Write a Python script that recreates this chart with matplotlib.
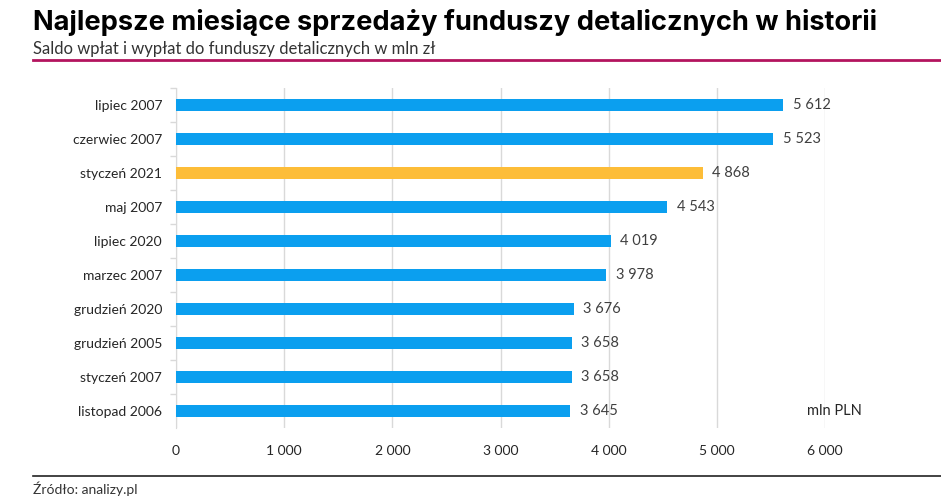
import matplotlib.pyplot as plt
from matplotlib.lines import Line2D

# Data
months = ["lipiec 2007", "czerwiec 2007", "styczeń 2021", "maj 2007", "lipiec 2020",
          "marzec 2007", "grudzień 2020", "grudzień 2005", "styczeń 2007", "listopad 2006"]
values = [5612, 5523, 4868, 4543, 4019, 3978, 3676, 3658, 3658, 3645]
highlight = "styczeń 2021"
xticks = [0, 1000, 2000, 3000, 4000, 5000, 6000]

blue = "#0b9fef"
yellow = "#fdbd38"
colors = [yellow if m == highlight else blue for m in months]


def fmt(v):
    return f"{v:,}".replace(",", " ")


fig = plt.figure(figsize=(9.41, 4.96), dpi=100)
ax = fig.add_axes([176 / 941, 1 - 428 / 496, (825 - 176) / 941, 340 / 496])

ypos = list(range(len(months)))
ax.barh(ypos, values, height=0.37, color=colors, zorder=3)
for y, v in zip(ypos, values):
    ax.text(v + 90, y, fmt(v), va="center", ha="left", fontsize=10.5,
            family="Lato", color="#404040")

ax.set_ylim(len(months) - 0.5, -0.5)
ax.set_xlim(0, 6000)
ax.set_yticks(ypos)
ax.set_yticklabels(months, family="Lato", fontsize=10, color="#262626")
ax.set_yticks([y + 0.5 for y in ypos[:-1]] + [-0.5], minor=True)
ax.tick_params(axis="y", which="major", length=0, pad=10)
ax.tick_params(axis="y", which="minor", length=4, color="#d9d9d9", width=1)
ax.set_xticks(xticks)
ax.set_xticklabels([fmt(t) for t in xticks], family="Lato", fontsize=10, color="#262626")
ax.tick_params(axis="x", length=0, pad=12)
ax.grid(axis="x", color="#d9d9d9", linewidth=1, zorder=0)
for s in ["top", "right", "bottom"]:
    ax.spines[s].set_visible(False)
ax.spines["left"].set_color("#d9d9d9")

ax.text(5835, 9, "mln PLN", family="Lato", fontsize=10.5, color="#262626",
        ha="left", va="center", zorder=4)

# Header and footer
fig.text(33 / 941, 1 - 22 / 496, "Najlepsze miesiące sprzedaży funduszy detalicznych w historii",
         fontsize=19.6, fontweight="bold", family="Inter", color="black", va="center")
fig.text(33 / 941, 1 - 49 / 496, "Saldo wpłat i wypłat do funduszy detalicznych w mln zł",
         fontsize=12, family="Lato", color="#333333", va="center")
fig.add_artist(Line2D([33 / 941, 1], [1 - 60 / 496] * 2, color="#b3145e", linewidth=2))
fig.add_artist(Line2D([33 / 941, 1], [1 - 476 / 496] * 2, color="#222222", linewidth=1.2))
fig.text(33 / 941, 1 - 489 / 496, "Źródło: analizy.pl", fontsize=10, family="Lato",
         color="#333333", va="center")

fig.savefig("out.png", dpi=100)
